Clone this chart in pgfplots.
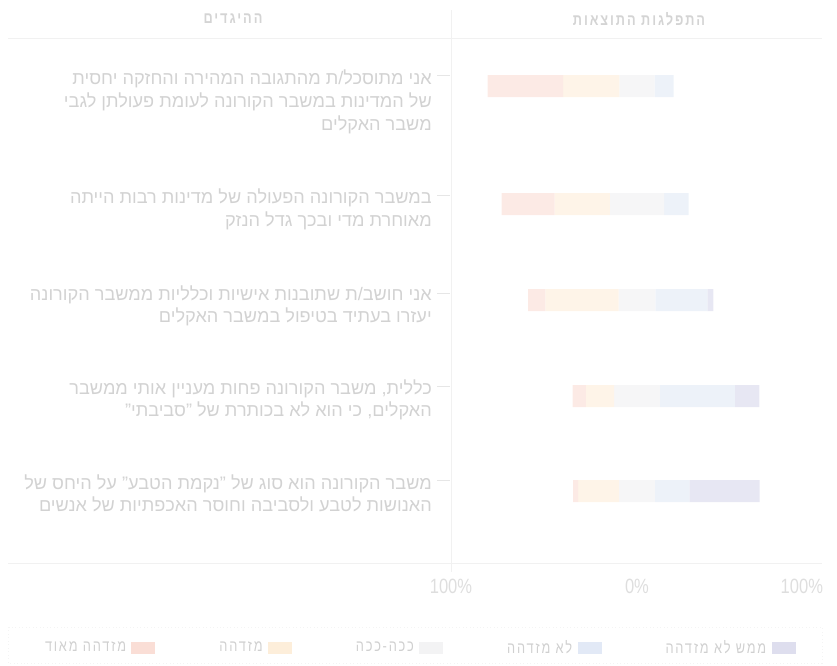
\documentclass[border=0pt]{standalone}
\usepackage{fontspec}
\setmainfont[Script=Hebrew]{Liberation Sans}
\newfontfamily\condfont[Script=Hebrew,FakeStretch=0.8]{Liberation Sans}
\newfontfamily\headfont[Script=Hebrew,FakeStretch=0.8,LetterSpace=12]{Liberation Sans}
\newfontfamily\legfont[Script=Hebrew,FakeStretch=0.8,LetterSpace=11]{Liberation Sans}
\usepackage{pgfplots}
\usepackage{pgfplotstable}
\pgfplotsset{compat=1.18}
\TeXXeTstate=1

\definecolor{cr}{RGB}{252,234,229}
\definecolor{co}{RGB}{254,244,232}
\definecolor{cg}{RGB}{246,246,247}
\definecolor{cb}{RGB}{237,242,249}
\definecolor{cp}{RGB}{231,231,243}
\definecolor{lr}{RGB}{250,222,214}
\definecolor{lo}{RGB}{253,238,218}
\definecolor{lg}{RGB}{243,243,244}
\definecolor{lb}{RGB}{226,233,246}
\definecolor{lp}{RGB}{222,222,238}
\definecolor{labc}{RGB}{210,210,210}
\definecolor{headc}{RGB}{212,212,212}
\definecolor{tickc}{RGB}{222,222,222}
\definecolor{legc}{RGB}{208,208,208}
\definecolor{linec}{RGB}{241,241,241}

% x values shifted by +100: axis 0..200 stands for -100%..100%
\pgfplotstableread{
y off r o g b p
-86 19.75 40.5 30.3 18.9 10.3 0
-204 27.2 28.5 29.7 29.2 13.1 0
-300 41.4 9.4 39.3 19.8 27.9 3.2
-396 65.45 7.0 15.3 24.5 40.4 13.1
-491 65.65 2.7 22.0 19.3 18.5 37.8
}\datatable

\newcommand\labfont{\fontsize{13.6pt}{16pt}\selectfont}

\begin{document}
\begin{tikzpicture}[x=0.75pt,y=-0.75pt]
\path[use as bounding box] (0,0) rectangle (837,665);
% frame lines
\draw[linec, line width=0.75pt] (8,38) -- (822,38);
\draw[linec, line width=0.75pt] (8,563) -- (822,563);
\draw[linec, line width=0.75pt] (451,10) -- (451,572);
\draw[linec!80!white, line width=0.6pt, dotted] (8,627) rectangle (822,663);
% headers
\node[text=headc, font=\headfont\bfseries\fontsize{12pt}{14pt}\selectfont] at (233,19) {\beginR ההיגדים\endR};
\node[text=headc, font=\headfont\bfseries\fontsize{12pt}{14pt}\selectfont] at (639,19) {\beginR התפלגות התוצאות\endR};
% label dashes
\foreach \yy in {75,195,293,386,480} {\draw[linec!90!gray, line width=0.75pt] (437,\yy) -- (450,\yy);}
% labels
\tikzset{lab/.style={anchor=base east, text=labc, inner sep=0pt, font=\labfont}}
\node[lab] at (432,84) {\beginR אני מתוסכל/ת מהתגובה המהירה והחזקה יחסית\endR};
\node[lab] at (432,107) {\beginR של המדינות במשבר הקורונה לעומת פעולתן לגבי\endR};
\node[lab] at (432,130) {\beginR משבר האקלים\endR};
\node[lab] at (432,203) {\beginR במשבר הקורונה הפעולה של מדינות רבות הייתה\endR};
\node[lab] at (432,226) {\beginR מאוחרת מדי ובכך גדל הנזק\endR};
\node[lab] at (432,300) {\beginR אני חושב/ת שתובנות אישיות וכלליות ממשבר הקורונה\endR};
\node[lab] at (432,322) {\beginR יעזרו בעתיד בטיפול במשבר האקלים\endR};
\node[lab] at (432,394) {\beginR כללית, משבר הקורונה פחות מעניין אותי ממשבר\endR};
\node[lab] at (432,416) {\beginR האקלים, כי הוא לא בכותרת של "סביבתי"\endR};
\node[lab] at (432,489) {\beginR משבר הקורונה הוא סוג של "נקמת הטבע" על היחס של\endR};
\node[lab] at (432,511) {\beginR האנושות לטבע ולסביבה וחוסר האכפתיות של אנשים\endR};

\begin{axis}[
  at={(338.25pt,-422.25pt)}, anchor=south west,
  scale only axis, width=279pt, height=393.75pt,
  xmin=0, xmax=200, ymin=-563, ymax=-38,
  xbar stacked, bar width=16.5pt,
  axis line style={draw=none},
  ytick=\empty,
  xtick={0,100,200}, xticklabels={100\%,0\%,\llap{100\%}},
  major tick length=0pt, xtick style={draw=none},
  xticklabel style={font=\condfont\fontsize{15.5pt}{16pt}\selectfont, text=tickc, anchor=north, inner sep=0pt, yshift=-12pt},
  clip=false,
  legend columns=5, legend plot pos=right,
  legend cell align=right,
  legend style={draw=none, fill=none, at={(axis description cs:-0.086,-0.162)}, anchor=center,
    font=\legfont\fontsize{12pt}{14pt}\selectfont, text=legc,
    /tikz/every even column/.append style={column sep=46pt},
    /tikz/every odd column/.append style={column sep=2pt}},
  legend image code/.code={\path[#1] (0pt,-4.5pt) rectangle (18pt,4.5pt);},
]
\addplot[draw=none, fill=none, forget plot] table[x=off, y=y] {\datatable};
\addplot[draw=none, fill=cr, forget plot] table[x=r, y=y] {\datatable};
\addplot[draw=none, fill=co, forget plot] table[x=o, y=y] {\datatable};
\addplot[draw=none, fill=cg, forget plot] table[x=g, y=y] {\datatable};
\addplot[draw=none, fill=cb, forget plot] table[x=b, y=y] {\datatable};
\addplot[draw=none, fill=cp, forget plot] table[x=p, y=y] {\datatable};
\addlegendimage{draw=none, fill=lr}
\addlegendentry{\beginR מזדהה מאוד\endR}
\addlegendimage{draw=none, fill=lo}
\addlegendentry{\beginR מזדהה\endR}
\addlegendimage{draw=none, fill=lg}
\addlegendentry{\beginR ככה-ככה\endR}
\addlegendimage{draw=none, fill=lb}
\addlegendentry{\beginR לא מזדהה\endR}
\addlegendimage{draw=none, fill=lp}
\addlegendentry{\beginR ממש לא מזדהה\endR}
\end{axis}
\end{tikzpicture}
\end{document}
